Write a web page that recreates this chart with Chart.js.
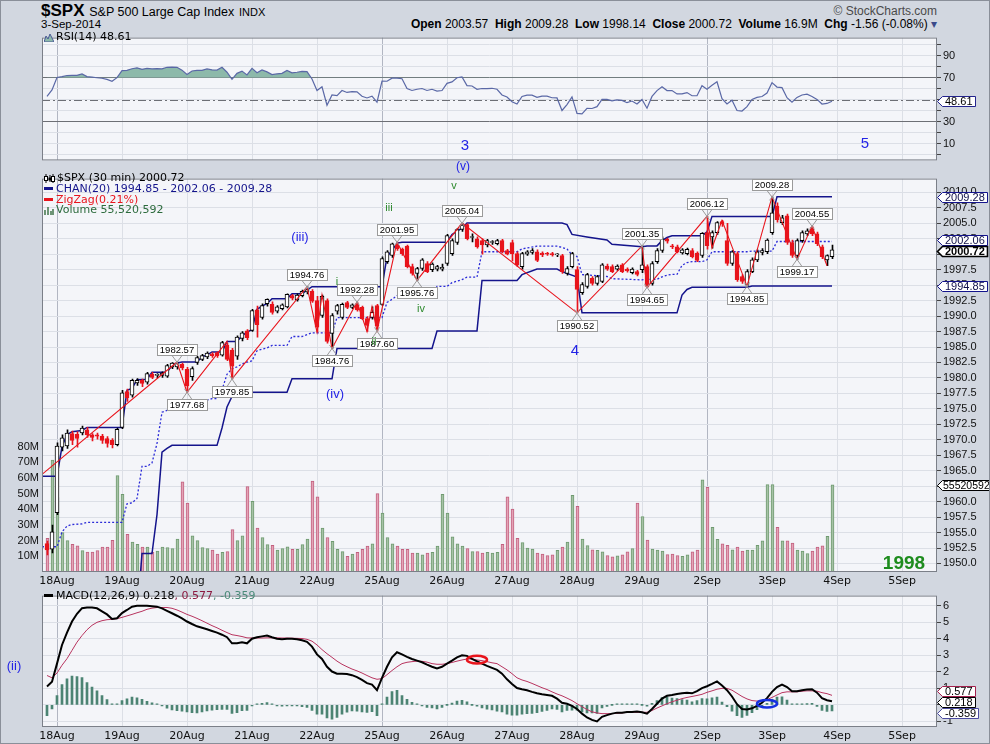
<!DOCTYPE html>
<html>
<head>
<meta charset="utf-8">
<title>$SPX 30 min</title>
<script src="https://cdn.jsdelivr.net/npm/chart.js@4.4.1/dist/chart.umd.min.js"></script>
<style>
  body { margin: 0; background: #d2d7e0; }
  #wrap { position: relative; width: 990px; height: 744px; background: #d2d7e0; overflow: hidden;
          font-family: "Liberation Sans", Arial, sans-serif; color: #000; box-sizing: border-box; border: 1px solid #8a8f99; }
  #wrap canvas { position: absolute; left: -1px; }
  .t { position: absolute; white-space: nowrap; line-height: 14px; }
  .lg { position: absolute; white-space: nowrap; font-family: "DejaVu Sans", Verdana, sans-serif; font-size: 11px; line-height: 14px; }
  .wave { position: absolute; transform: translate(-50%, -50%); white-space: nowrap; }
  .blue { color: #2323e6; }
  .green { color: #2e8a2e; }
  .ic { display: inline-block; width: 9px; height: 3px; vertical-align: middle; margin: 0 3px 2px 0; }
</style>
</head>
<body>
<div id="wrap">
  <div class="t" style="left:40px;top:0px;font-size:17px;line-height:20px"><b>$SPX</b> <span style="font-size:12.5px">S&amp;P 500 Large Cap Index</span> <span style="font-size:11px">INDX</span></div>
  <div class="t" style="left:40px;top:16px;font-size:11.5px">3-Sep-2014</div>
  <div class="t" style="right:52px;top:3px;font-size:12px;color:#4a4a4a">&copy; StockCharts.com</div>
  <div class="t" style="right:52px;top:16px;font-size:12px"><b>Open</b> 2003.57 &nbsp;<b>High</b> 2009.28 &nbsp;<b>Low</b> 1998.14 &nbsp;<b>Close</b> 2000.72 &nbsp;<b>Volume</b> 16.9M &nbsp;<b>Chg</b> -1.56 (-0.08%) <span style="color:#3a4a8a">&#9662;</span></div>

  <canvas id="rsiChart" width="990" height="140" style="top:28px"></canvas>
  <canvas id="priceChart" width="990" height="420" style="top:168px"></canvas>
  <canvas id="macdChart" width="990" height="157" style="top:586px"></canvas>

  <!-- panel legends -->
  <div class="lg" style="left:43px;top:29px"><svg width="10" height="9" style="vertical-align:middle;margin-right:2px"><path d="M0 9 L2 3 L4 6 L6 1 L8 5 L10 9 Z" fill="#8db9aa" stroke="#4a5a96"/></svg>RSI(14) 48.61</div>
  <div class="lg" style="left:43px;top:170px"><svg width="11" height="9" style="vertical-align:middle;margin-right:2px"><path d="M2 0 V9 M6 1 V8 M9 0 V9" stroke="#000"/><rect x="0.5" y="2.5" width="3" height="4" fill="#fff" stroke="#000"/><rect x="4.5" y="3.5" width="3" height="3" fill="#000"/><rect x="7.5" y="2.5" width="3" height="5" fill="#fff" stroke="#000"/></svg>$SPX (30 min) 2000.72</div>
  <div class="lg" style="left:43px;top:181px;color:#14148c"><span class="ic" style="background:#14148c"></span>CHAN(20) 1994.85 - 2002.06 - 2009.28</div>
  <div class="lg" style="left:43px;top:192px;color:#e8141c"><span class="ic" style="background:#e8141c"></span>ZigZag(0.21%)</div>
  <div class="lg" style="left:43px;top:202px;color:#2d6b3d"><svg width="10" height="9" style="vertical-align:middle;margin-right:2px"><path d="M1 9 V4 M4 9 V1 M7 9 V5 M9 9 V3" stroke="#4d7d55" stroke-width="1.6"/></svg>Volume 55,520,592</div>
  <div class="lg" style="left:43px;top:588px"><span class="ic" style="background:#000"></span>MACD(12,26,9) 0.218<span style="color:#8c1a40">, 0.577</span><span style="color:#4a8a78">, -0.359</span></div>

  <!-- wave count annotations -->
  <div class="wave blue" style="left:464px;top:143px;font-size:15px">3</div>
  <div class="wave blue" style="left:462px;top:165px;font-size:12px">(v)</div>
  <div class="wave blue" style="left:864px;top:141px;font-size:15px">5</div>
  <div class="wave blue" style="left:299px;top:235px;font-size:13px">(iii)</div>
  <div class="wave blue" style="left:334px;top:392px;font-size:13px">(iv)</div>
  <div class="wave blue" style="left:574px;top:348px;font-size:15px">4</div>
  <div class="wave blue" style="left:13px;top:664px;font-size:13px">(ii)</div>
  <div class="wave green" style="left:453px;top:184px;font-size:11px">v</div>
  <div class="wave green" style="left:388px;top:206px;font-size:11px">iii</div>
  <div class="wave green" style="left:336px;top:280px;font-size:11px">i</div>
  <div class="wave green" style="left:373px;top:340px;font-size:11px">ii</div>
  <div class="wave green" style="left:420px;top:307px;font-size:11px">iv</div>
  <div class="wave" style="left:903px;top:562px;font-size:19px;font-weight:bold;color:#1e8c1e">1998</div>
</div>

<script>
// ---- data (one value per 30-min bar, 15Aug last two bars first) ----
const days = ['18Aug', '19Aug', '20Aug', '21Aug', '22Aug', '25Aug', '26Aug', '27Aug', '28Aug', '29Aug', '2Sep', '3Sep', '4Sep', '5Sep'];
const weekStarts = ['18Aug', '25Aug', '2Sep'];

const open = [
  1953.2, 1952.3, 1958.2, 1968.8, 1969.0, 1971.0, 1970.9, 1971.1, 1971.6, 1970.8, 1970.8, 1970.6, 1970.2, 1969.9, 1969.2,
  1972.0, 1977.8, 1977.2, 1979.2, 1979.6, 1979.3, 1980.6, 1980.4, 1980.4, 1980.3, 1981.8, 1981.8, 1982.2,
  1981.4, 1980.2, 1982.5, 1983.0, 1983.4, 1983.9, 1984.1, 1983.7, 1985.3, 1984.5, 1983.5, 1986.4, 1987.6,
  1987.7, 1991.0, 1989.8, 1992.0, 1991.9, 1990.8, 1991.2, 1991.5, 1993.3, 1992.6, 1993.3, 1993.9, 1994.0,
  1992.5, 1990.1, 1992.5, 1987.2, 1990.8, 1989.8, 1992.2, 1991.4, 1992.0, 1991.4, 1989.6, 1989.8, 1991.7,
  1991.9, 1998.8, 1999.8, 2001.5, 2000.8, 2001.3, 1998.0, 1996.9, 1997.7, 1998.5, 1997.5, 1997.6, 1997.6,
  1998.5, 2000.1, 2001.9, 2004.0, 2004.8, 2002.7, 2002.5, 2002.2, 2001.5, 2001.9, 2001.7, 2002.2, 2000.6,
  2001.9, 2000.1, 1998.0, 2000.0, 2000.3, 2000.4, 2000.2, 2000.1, 2000.1, 1999.9, 1999.8, 1996.9, 1998.0,
  1997.5, 1993.8, 1994.8, 1996.1, 1995.3, 1995.6, 1998.1, 1998.0, 1997.6, 1998.3, 1997.6, 1997.0, 1997.2,
  1997.5, 1998.0, 1995.3, 1998.8, 2000.6, 2002.4, 2001.3, 2001.2, 2000.2, 2000.1, 2000.6, 2000.2, 1999.8,
  2003.5, 2002.8, 2003.5, 2005.3, 2002.2, 1998.5, 2000.1, 1996.4, 1995.0, 1997.2, 1999.1, 2000.3, 2000.4,
  2003.5, 2007.8, 2005.1, 2006.2, 2001.9, 1999.8, 2002.2, 2003.3, 2004.3, 2003.3, 2001.2, 1999.1, 1999.6
];
const high = [
  1953.6, 1956.2, 1969.5, 1970.8, 1971.6, 1971.4, 1971.3, 1972.2, 1972.0, 1971.0, 1971.1, 1970.9, 1970.5, 1970.2, 1971.9,
  1978.0, 1978.2, 1979.8, 1979.9, 1979.8, 1980.9, 1980.9, 1980.7, 1981.0, 1982.2, 1982.5, 1982.57, 1982.4,
  1981.7, 1981.8, 1983.5, 1983.8, 1984.2, 1984.1, 1984.2, 1985.9, 1985.6, 1984.8, 1986.8, 1987.5, 1987.8,
  1991.1, 1991.6, 1992.0, 1992.8, 1992.3, 1991.7, 1992.0, 1993.6, 1993.5, 1993.6, 1994.2, 1994.76, 1994.3,
  1993.2, 1993.4, 1992.8, 1990.4, 1991.9, 1992.1, 1992.4, 1992.0, 1992.28, 1991.6, 1989.9, 1991.5, 1991.9,
  1999.6, 2000.6, 2001.8, 2001.95, 2001.0, 2001.5, 1998.4, 1997.9, 1999.3, 1998.8, 1998.6, 1998.2, 1998.4,
  2003.2, 2002.5, 2004.2, 2005.04, 2004.9, 2003.3, 2002.8, 2002.5, 2002.4, 2002.2, 2002.4, 2002.4, 2000.8,
  2002.3, 2000.4, 2000.3, 2000.6, 2000.9, 2000.7, 2000.4, 2000.3, 2000.3, 2000.1, 2000.0, 1998.0, 2000.3,
  1998.0, 1995.4, 1996.9, 1996.4, 1996.6, 1998.5, 1998.4, 1998.3, 1998.3, 1998.5, 1997.8, 1997.8, 1997.4,
  2001.35, 1998.3, 1998.8, 2000.9, 2002.8, 2002.6, 2001.6, 2001.5, 2000.9, 2001.0, 2000.9, 2000.4, 2003.5,
  2006.12, 2003.8, 2005.3, 2005.5, 2005.0, 2000.6, 2000.4, 1996.7, 1997.5, 1999.4, 2000.7, 2000.9, 2002.5,
  2009.28, 2008.3, 2006.3, 2006.5, 2002.3, 2002.5, 2003.8, 2004.1, 2004.55, 2003.6, 2001.5, 1999.9, 2001.5
];
const low = [
  1951.4, 1951.7, 1957.9, 1968.2, 1968.6, 1969.2, 1968.8, 1970.8, 1970.4, 1969.8, 1970.1, 1969.4, 1968.8, 1968.7, 1969.0,
  1971.8, 1976.2, 1976.9, 1978.8, 1978.6, 1979.0, 1979.9, 1980.0, 1980.1, 1980.1, 1981.5, 1981.4, 1981.3,
  1977.68, 1979.6, 1982.2, 1982.8, 1983.1, 1983.3, 1983.3, 1983.5, 1982.8, 1979.85, 1983.0, 1986.0, 1986.2,
  1987.5, 1986.6, 1989.5, 1991.6, 1990.3, 1990.5, 1991.0, 1991.3, 1992.6, 1992.4, 1993.1, 1993.6, 1992.2,
  1987.4, 1989.8, 1985.6, 1984.76, 1990.3, 1989.5, 1991.2, 1991.2, 1990.8, 1989.4, 1987.5, 1989.5, 1987.6,
  1991.7, 1998.5, 1999.5, 2000.6, 1999.8, 1997.8, 1996.6, 1995.76, 1997.4, 1997.0, 1997.2, 1997.3, 1997.3,
  1998.2, 1999.8, 2001.6, 2003.7, 2002.3, 2002.0, 2001.0, 2000.0, 2001.2, 2001.6, 2001.5, 2000.2, 1999.9,
  1998.9, 1998.0, 1997.6, 1999.8, 2000.0, 1998.8, 1999.6, 1999.8, 1999.7, 1999.6, 1996.9, 1996.6, 1997.8,
  1990.52, 1993.5, 1994.5, 1995.0, 1995.0, 1995.4, 1997.4, 1997.0, 1997.4, 1997.0, 1997.1, 1996.8, 1996.5,
  1997.0, 1994.65, 1995.0, 1998.5, 2000.3, 2001.8, 2000.9, 2000.2, 2000.0, 1999.9, 1999.4, 1998.8, 1999.5,
  2000.8, 2001.0, 2003.2, 2004.5, 1998.2, 1998.2, 1995.6, 1995.3, 1994.85, 1997.0, 1998.8, 1999.9, 2000.1,
  2003.2, 2005.2, 2004.8, 2001.6, 1999.5, 1999.17, 2001.9, 2003.0, 2003.0, 2001.4, 1999.3, 1998.14, 1999.3
];
const close = [
  1952.2, 1955.1, 1969.0, 1970.3, 1971.1, 1969.9, 1970.2, 1971.9, 1970.8, 1970.4, 1970.6, 1969.9, 1969.4, 1969.2, 1971.7,
  1977.6, 1976.8, 1979.6, 1979.6, 1979.1, 1980.7, 1980.1, 1980.5, 1980.8, 1982.0, 1982.4, 1982.3, 1981.6,
  1978.7, 1981.5, 1983.3, 1983.6, 1984.0, 1983.6, 1983.6, 1985.7, 1983.0, 1981.9, 1986.6, 1987.3, 1986.5,
  1990.9, 1988.6, 1991.7, 1992.7, 1990.6, 1991.5, 1991.8, 1993.5, 1992.9, 1993.4, 1994.0, 1994.3, 1992.4,
  1988.2, 1993.2, 1985.9, 1990.1, 1991.7, 1991.9, 1991.4, 1991.8, 1991.0, 1989.6, 1988.5, 1990.6, 1988.4,
  1999.3, 2000.4, 2001.7, 2000.9, 2000.1, 1998.0, 1996.9, 1997.7, 1999.1, 1997.2, 1998.4, 1998.0, 1997.9,
  2003.0, 2002.2, 2004.0, 2004.7, 2002.5, 2002.7, 2001.2, 2001.5, 2002.2, 2001.9, 2002.2, 2000.4, 2000.0,
  2000.1, 1998.3, 2000.1, 2000.4, 2000.6, 1999.0, 1999.9, 2000.0, 1999.9, 1999.9, 1997.2, 1997.7, 2000.1,
  1994.3, 1995.1, 1996.7, 1995.3, 1996.4, 1998.3, 1997.6, 1997.2, 1998.1, 1997.2, 1997.3, 1997.6, 1996.74,
  1998.3, 1994.8, 1998.5, 2000.6, 2002.5, 2002.1, 2001.2, 2000.4, 2000.7, 2000.8, 1999.6, 1999.0, 2003.37,
  2001.4, 2003.5, 2005.1, 2004.9, 1998.5, 2000.4, 1995.9, 1995.6, 1997.2, 1999.1, 2000.4, 2000.6, 2002.28,
  2006.7, 2005.6, 2005.9, 2001.9, 1999.8, 2002.2, 2003.5, 2003.8, 2003.3, 2001.7, 1999.6, 1999.8, 2000.72
];
// volume in millions
const volume = [
  21.5, 71.3, 47.4, 25.2, 20, 17.7, 16.7, 13.6, 12.7, 12.7, 13.6, 15.9, 15.9, 20.2, 61.5,
  49.5, 24, 19, 17.7, 15.9, 15.9, 12.7, 13.4, 15.9, 15.5, 15, 21, 57.5,
  44, 23, 20, 15.5, 15, 14, 11.5, 12.5, 13, 27, 20, 23, 54.5,
  45, 28, 22, 17.5, 17, 14, 15, 16, 14.5, 14.5, 17.5, 21, 58,
  48, 28, 22, 19.5, 14.5, 13, 10, 11.5, 12.5, 14.5, 16.5, 18, 50,
  37.5, 22, 18, 16.5, 14.5, 14.5, 12, 12, 11, 12, 12.5, 16.5, 49.5,
  37.5, 22.5, 18, 16.5, 15, 13, 13, 12, 12.5, 12, 12.5, 17.7, 48,
  40.1, 21.5, 18.8, 15.2, 14.6, 12.1, 11.5, 10.5, 10.9, 13.8, 15.9, 19, 48.9,
  41.8, 21, 16.9, 14.2, 13.8, 12.8, 10.5, 9.6, 10.3, 10.9, 12.8, 14.9, 43.9,
  35.4, 20.4, 14.6, 14, 13.4, 11.1, 11.4, 10.5, 10, 11, 12.8, 14, 58.8,
  54, 28.5, 20.8, 17.9, 17, 14.2, 15.9, 13.4, 14, 14, 17, 19.8, 55.7,
  55.7, 28.5, 19.8, 19.8, 18.5, 14, 13.4, 11.8, 13.4, 15.9, 16.7, 22.8, 55.52
];
const volumeLast = 55520592;

const rsi = [
  53, 58.9, 70.2, 71, 72, 72.2, 72.2, 73.4, 71, 70.5, 70, 69.5, 68.5, 66.8, 70.1,
  76.4, 76.7, 78.2, 79, 77.6, 78.5, 78, 78.2, 78, 79.5, 79.7, 79.5, 76.9,
  72.9, 76.1, 76.7, 76.7, 78, 77.2, 76.9, 79.5, 75, 68.6, 74, 76, 72.5,
  78.5, 74.5, 77, 75.3, 72.8, 73.5, 74, 76.6, 74.5, 75, 75.7, 75.6, 68.9,
  58.3, 61.8, 45, 54.3, 53.7, 58.4, 56.6, 57.4, 57.2, 53.2, 51.6, 53.2, 47.7,
  67, 66.8, 69.6, 69.6, 69.1, 60.2, 58.4, 59.5, 60.2, 58.4, 59.5, 57.9, 58.4,
  64.9, 66.2, 70, 70.7, 62.8, 62.5, 59.5, 60.2, 60, 60.4, 59.5, 54.3, 52.5,
  48.2, 46.1, 53, 54.1, 54.1, 52.2, 53.3, 53.3, 51.8, 51.6, 40.2, 45.6, 52.6,
  37.6, 37.1, 42.1, 42, 43.7, 50.3, 50.3, 49, 49.8, 49.4, 47.3, 48.8, 46.1,
  50.2, 42.3, 53, 58.3, 61.7, 58.3, 58.3, 55.3, 55.3, 56.5, 53.6, 53.6, 62.8,
  59.6, 63.1, 66.3, 50.9, 46.1, 49.5, 40.2, 39.7, 43.7, 50.3, 52.1, 52.9, 56.1,
  65.5, 61.5, 61, 51.8, 47.8, 52.1, 54.3, 55.1, 53, 50.3, 46.1, 46.6, 48.61
];

const macd = [
  1.12, 1.4, 2.5, 3.63, 4.38, 5.05, 5.52, 5.86, 5.9, 5.9, 5.85, 5.67, 5.48, 5.2, 5.25,
  5.56, 5.75, 5.95, 6.0, 6.0, 6.0, 5.98, 5.95, 5.85, 5.7, 5.55, 5.4, 5.24,
  5.05, 4.9, 4.76, 4.67, 4.58, 4.48, 4.38, 4.25, 4.1, 3.73, 3.73, 3.79, 3.73,
  4.01, 4.1, 4.15, 4.2, 4.1, 4.01, 3.97, 4.0, 4.0, 3.97, 3.91, 3.82, 3.53,
  3.06, 2.78, 2.31, 2.02, 1.89, 1.89, 1.87, 1.8, 1.68, 1.51, 1.32, 1.23, 0.89,
  1.64, 2.31, 2.88, 3.19, 3.06, 2.91, 2.78, 2.68, 2.58, 2.44, 2.31, 2.21, 2.31,
  2.5, 2.68, 2.88, 3.0, 2.97, 2.78, 2.64, 2.5, 2.36, 2.24, 2.12, 1.89, 1.55,
  1.27, 1.02, 0.95, 0.89, 0.79, 0.7, 0.64, 0.6, 0.55, 0.38, 0.13, 0.07, -0.06,
  -0.25, -0.53, -0.76, -0.91, -1.0, -0.72, -0.62, -0.53, -0.47, -0.47, -0.43, -0.43, -0.4,
  -0.45, -0.53, -0.25, 0.07, 0.38, 0.55, 0.6, 0.66, 0.7, 0.74, 0.7, 0.83, 1.02,
  1.13, 1.27, 1.42, 1.17, 0.89, 0.51, 0.04, -0.25, -0.28, -0.21, -0.06, 0.13, 0.41,
  0.79, 1.08, 1.23, 1.08, 0.83, 0.83, 0.89, 0.93, 0.95, 0.74, 0.41, 0.28, 0.218
];
const signal = [
  1.78, 1.64, 1.93, 2.4, 2.8, 3.3, 3.8, 4.2, 4.55, 4.82, 5.0, 5.1, 5.16, 5.18, 5.22,
  5.3, 5.39, 5.48, 5.58, 5.67, 5.79, 5.86, 5.9, 5.9, 5.9, 5.85, 5.75, 5.62,
  5.48, 5.37, 5.24, 5.1, 4.95, 4.8, 4.67, 4.52, 4.38, 4.25, 4.2, 4.14, 4.06,
  4.05, 4.05, 4.05, 4.06, 4.06, 4.06, 4.05, 4.05, 4.04, 4.03, 4.02, 3.97, 3.86,
  3.63, 3.35, 3.1, 2.88, 2.65, 2.46, 2.31, 2.17, 2.06, 1.93, 1.78, 1.64, 1.55,
  1.59, 1.83, 2.08, 2.31, 2.5, 2.58, 2.62, 2.65, 2.64, 2.59, 2.5, 2.46, 2.46,
  2.5, 2.57, 2.65, 2.72, 2.78, 2.78, 2.72, 2.68, 2.62, 2.55, 2.5, 2.31, 2.12,
  1.89, 1.64, 1.51, 1.42, 1.3, 1.17, 1.04, 0.93, 0.79, 0.66, 0.55, 0.41, 0.26,
  0.07, -0.11, -0.28, -0.42, -0.49, -0.53, -0.53, -0.53, -0.51, -0.49, -0.45, -0.45, -0.45,
  -0.45, -0.45, -0.34, -0.19, -0.06, 0.07, 0.19, 0.28, 0.38, 0.45, 0.51, 0.57, 0.64,
  0.76, 0.85, 0.95, 1.0, 1.0, 0.89, 0.7, 0.51, 0.36, 0.26, 0.23, 0.26, 0.32,
  0.45, 0.6, 0.74, 0.79, 0.79, 0.79, 0.83, 0.85, 0.85, 0.83, 0.74, 0.68, 0.577
];

// price channel (20) vertices: [bar, value]
const chanUpper = [[-1,1964.1],[2,1964.1],[3,1968.9],[4,1970.8],[5,1971.3],[7,1971.5],[8,1972.0],[15,1972.0],[16,1978.0],[17,1978.3],[18,1979.7],[20,1979.8],[21,1980.9],[24,1980.9],[25,1982.0],[26,1982.4],[27,1982.57],[30,1982.57],[31,1983.4],[32,1983.7],[33,1984.2],[35,1984.2],[36,1985.9],[38,1985.9],[39,1986.8],[40,1987.4],[41,1987.8],[42,1991.1],[43,1991.6],[44,1992.0],[45,1992.8],[48,1992.8],[49,1993.6],[51,1993.6],[52,1994.2],[53,1994.76],[67,1994.76],[68,1999.6],[69,2000.6],[70,2001.8],[71,2001.95],[80,2001.95],[81,2003.2],[83,2004.2],[84,2005.04],[103,2005.04],[104,2004.8],[105,2003.2],[108,2002.8],[112,2002.3],[113,2001.6],[119,2001.2],[120,2001.35],[122,2001.35],[123,2002.2],[124,2002.7],[125,2003.0],[131,2003.0],[132,2003.6],[133,2006.12],[145,2006.12],[146,2009.28],[157,2009.28]];
const chanMid = [[-1,1952.7],[2,1952.7],[3,1955.1],[4,1956.05],[5,1956.3],[7,1956.4],[8,1956.65],[15,1956.65],[16,1959.65],[17,1959.8],[18,1960.5],[19,1965.7],[20,1965.7],[21,1966.25],[22,1969.4],[23,1974.45],[24,1974.75],[25,1975.55],[26,1975.75],[27,1975.85],[30,1975.85],[31,1976.25],[32,1976.4],[33,1976.65],[34,1976.65],[35,1978.05],[36,1980.6],[37,1981.45],[38,1981.8],[39,1982.25],[40,1982.55],[41,1982.75],[42,1984.4],[43,1984.65],[44,1984.85],[45,1985.25],[48,1985.25],[49,1986.7],[51,1986.7],[52,1987.0],[53,1987.3],[57,1987.3],[58,1989.76],[67,1989.76],[68,1992.2],[69,1992.7],[70,1993.3],[71,1993.35],[77,1993.35],[78,1994.8],[80,1994.8],[81,1995.4],[83,1995.9],[84,1996.3],[86,1996.3],[87,2000.4],[94,2000.4],[95,2000.87],[98,2001.3],[102,2001.3],[103,2001.1],[104,2000.85],[105,1999.9],[106,1999.65],[107,1996.7],[108,1996.65],[112,1996.4],[113,1996.05],[119,1995.85],[120,1995.95],[122,1995.95],[123,1996.35],[124,1996.6],[125,1996.75],[126,1996.75],[127,1998.2],[128,1998.65],[129,1998.8],[131,1998.8],[132,1999.1],[133,2000.4],[140,2000.4],[141,2000.5],[145,2000.5],[146,2002.06],[157,2002.06]];
const chanLower = [[-1,1941.3],[18,1941.3],[19,1951.6],[21,1951.6],[22,1957.9],[23,1968.0],[24,1968.6],[25,1969.1],[34,1969.1],[35,1971.9],[36,1975.3],[37,1977.0],[38,1977.68],[48,1977.68],[49,1979.85],[57,1979.85],[58,1984.76],[77,1984.76],[78,1987.6],[86,1987.6],[87,1995.76],[94,1995.76],[95,1996.7],[98,1997.6],[102,1997.6],[103,1997.2],[104,1996.9],[106,1996.3],[107,1990.52],[126,1990.52],[127,1993.4],[128,1994.3],[129,1994.65],[140,1994.65],[141,1994.85],[157,1994.85]];

// zigzag pivots and the ones that carry a value box
const zzIdx = [-1, 26, 28, 36, 37, 52, 54, 55, 57, 62, 64, 65, 66, 70, 74, 83, 106, 119, 120, 132, 133, 135, 140, 145, 150, 153, 156];
const zzVal = [1964.4, 1982.57, 1977.68, 1985.9, 1979.85, 1994.76, 1987.4, 1993.4, 1984.76, 1992.28, 1987.5, 1991.5, 1987.60, 2001.95, 1995.76, 2005.04, 1990.52, 2001.35, 1994.65, 2006.12, 2001.0, 2005.5, 1994.85, 2009.28, 1999.17, 2004.55, 1998.14];
const zzLabelled = [26, 28, 37, 52, 57, 62, 66, 70, 74, 83, 106, 119, 120, 132, 140, 145, 150, 153];

// axis ticks
const priceTicks = [1950, 1952.5, 1955, 1957.5, 1960, 1962.5, 1965, 1967.5, 1970, 1972.5, 1975, 1977.5, 1980, 1982.5, 1985, 1987.5, 1990, 1992.5, 1995, 1997.5, 2000, 2002.5, 2005, 2007.5, 2010];
const volTicks = [10, 20, 30, 40, 50, 60, 70, 80];
const rsiTicks = [0, 10, 20, 30, 40, 50, 60, 70, 80, 90, 100];
const rsiLabels = [10, 30, 70, 90];
const macdTicks = [-1, 0, 1, 2, 3, 4, 5, 6];

// circled MACD crossovers (bar, value)
const macdMarks = [{ x: 86, y: 2.74, color: '#e8141c' }, { x: 144, y: 0.07, color: '#1530e0' }];

// ---- layout ----
const xMin = -1, xMax = 178;          // visible bar window
const firstBar = 2, barsPerDay = 13;  // 13 half-hour bars per session, 18Aug opens at bar 2
const dayTicks = days.map((d, k) => firstBar + k * barsPerDay);
const idx = close.map((_, i) => i);
const up = i => close[i] >= open[i];
const pts = arr => arr.map(([x, y]) => ({ x, y }));

Chart.defaults.font.family = '"Liberation Sans", Arial, sans-serif';
Chart.defaults.font.size = 11;
Chart.defaults.color = '#111';
Chart.defaults.animation = false;

const GRID = '#dcdfe6';

function xAxis(labels) {
  return {
    type: 'linear', min: xMin, max: xMax, offset: false,
    afterBuildTicks: s => { s.ticks = dayTicks.map(value => ({ value })); },
    afterFit: s => { s.height = labels ? 17 : 0; },
    ticks: {
      display: labels, autoSkip: false, maxRotation: 0, padding: 3,
      font: { family: '"DejaVu Sans", Verdana, sans-serif', size: 11 },
      callback: (v, i) => days[i]
    },
    grid: {
      offset: false, drawTicks: false,
      color: c => (c.tick && weekStarts.includes(days[dayTicks.indexOf(c.tick.value)])) ? '#b2b6c2' : GRID
    },
    border: { display: false }
  };
}

function rightAxis(min, max, ticks, fmt, gridColor) {
  return {
    type: 'linear', position: 'right', min, max,
    afterBuildTicks: s => { s.ticks = ticks.map(value => ({ value })); },
    afterFit: s => { s.width = 53; },
    ticks: { autoSkip: false, padding: 2, callback: fmt },
    grid: { color: gridColor || GRID, tickLength: 4, tickColor: '#444' },
    border: { display: false }
  };
}

// panel background and frame
const panelBox = {
  id: 'panelBox',
  beforeDraw(c) {
    const a = c.chartArea, g = c.ctx;
    g.save(); g.fillStyle = '#f4f5f9';
    g.fillRect(a.left, a.top, a.right - a.left, a.bottom - a.top);
    g.restore();
  },
  afterDatasetsDraw(c) {
    const a = c.chartArea, g = c.ctx;
    g.save(); g.strokeStyle = '#7b7f88'; g.lineWidth = 1;
    g.strokeRect(a.left + 0.5, a.top + 0.5, a.right - a.left - 1, a.bottom - a.top - 1);
    g.restore();
  }
};

// value tags on the right edge, pushed apart when they overlap
function drawTags(chart, list) {
  const g = chart.ctx, right = chart.chartArea.right, h = 10;
  const items = list.map(t => ({ ...t, y: chart.scales[t.axis].getPixelForValue(t.v) }));
  const sorted = [...items].sort((a, b) => a.y - b.y);
  for (let n = 0; n < 8; n++) {
    for (let i = 1; i < sorted.length; i++) {
      const d = sorted[i].y - sorted[i - 1].y;
      if (d < h + 1) { const m = (h + 1 - d) / 2; sorted[i - 1].y -= m; sorted[i].y += m; }
    }
  }
  items.forEach(t => {
    g.save();
    g.font = (t.bold ? 'bold ' : '') + (t.size || 11) + 'px "Liberation Sans", Arial, sans-serif';
    const pad = t.pad === undefined ? 3 : t.pad;
    const w = Math.round(g.measureText(t.text).width) + pad * 2 - 1, x0 = right + 5, y = Math.round(t.y) + 0.5;
    g.beginPath();
    g.moveTo(right + 0.5, y);
    g.lineTo(x0 + 0.5, y - h / 2); g.lineTo(x0 + w + 0.5, y - h / 2);
    g.lineTo(x0 + w + 0.5, y + h / 2); g.lineTo(x0 + 0.5, y + h / 2);
    g.closePath();
    g.fillStyle = '#fff'; g.fill();
    g.strokeStyle = t.color; g.lineWidth = t.bold ? 1.6 : 1; g.stroke();
    g.fillStyle = t.textColor || '#000'; g.textBaseline = 'middle';
    g.fillText(t.text, x0 + pad, y + 0.5);
    g.restore();
  });
}

// ---- RSI panel ----
new Chart(document.getElementById('rsiChart'), {
  type: 'line',
  data: { datasets: [{
    data: idx.map(i => ({ x: i, y: rsi[i] })),
    borderColor: '#5a68a6', borderWidth: 1.2, pointRadius: 0, tension: 0,
    fill: { target: { value: 70 }, above: '#8db9aa', below: 'rgba(0,0,0,0)' }
  }] },
  options: {
    responsive: false, events: [],
    layout: { padding: { top: 1, left: 42, right: 0, bottom: 0 } },
    plugins: { legend: { display: false }, tooltip: { enabled: false } },
    scales: {
      x: xAxis(false),
      y: rightAxis(-5.2, 106.5, rsiTicks, v => rsiLabels.includes(v) ? String(v) : '',
        c => (c.tick && (c.tick.value === 70 || c.tick.value === 30)) ? '#6d6f75' : GRID)
    }
  },
  plugins: [panelBox, {
    id: 'rsiExtras',
    beforeDatasetsDraw(c) {
      const g = c.ctx, a = c.chartArea, y = Math.round(c.scales.y.getPixelForValue(50)) + 0.5;
      g.save(); g.strokeStyle = '#6d6f75'; g.lineWidth = 1; g.setLineDash([8, 3, 2, 3]);
      g.beginPath(); g.moveTo(a.left, y); g.lineTo(a.right, y); g.stroke(); g.restore();
    },
    afterDraw(c) {
      drawTags(c, [{ axis: 'y', v: rsi.at(-1), text: rsi.at(-1).toFixed(2), color: '#23238c' }]);
    }
  }]
});

// ---- price panel: candles, price channel, zigzag, volume ----
new Chart(document.getElementById('priceChart'), {
  type: 'bar',
  data: { datasets: [
    { type: 'line', data: zzIdx.map((x, k) => ({ x, y: zzVal[k] })), borderColor: '#e8141c', borderWidth: 1.1, pointRadius: 0, tension: 0, order: 1 },
    { data: idx.map(i => ({ x: i, y: [open[i], close[i]] })), barThickness: 4, grouped: false, borderSkipped: false, minBarLength: 1, borderWidth: 1,
      backgroundColor: c => up(c.dataIndex) ? '#ffffff' : '#e8141c', borderColor: c => up(c.dataIndex) ? '#000000' : '#e8141c', order: 2 },
    { xAxisID: 'xw', data: idx.map(i => ({ x: i, y: [low[i], high[i]] })), barThickness: 1, grouped: false, borderWidth: 0,
      backgroundColor: c => up(c.dataIndex) ? '#000000' : '#e8141c', order: 3 },
    { type: 'line', data: pts(chanUpper), borderColor: '#14148c', borderWidth: 1.5, pointRadius: 0, tension: 0, order: 4 },
    { type: 'line', data: pts(chanMid), borderColor: '#2b2bd8', borderWidth: 1.3, borderDash: [2, 2], pointRadius: 0, tension: 0, order: 4 },
    { type: 'line', data: pts(chanLower), borderColor: '#14148c', borderWidth: 1.5, pointRadius: 0, tension: 0, order: 4 },
    { xAxisID: 'xw', yAxisID: 'vol', data: idx.map(i => ({ x: i, y: volume[i] })), barThickness: 3, grouped: false, borderWidth: 1, borderSkipped: false,
      backgroundColor: c => up(c.dataIndex) ? '#a6c2a6' : '#e3a3b6', borderColor: c => up(c.dataIndex) ? '#6f9a70' : '#c2607f', order: 6 }
  ] },
  options: {
    responsive: false, events: [],
    layout: { padding: { top: 1, left: 0, right: 0, bottom: 0 } },
    plugins: { legend: { display: false }, tooltip: { enabled: false } },
    scales: {
      x: xAxis(true),
      xw: { type: 'linear', display: false, min: xMin - 0.1, max: xMax - 0.1, offset: false },
      y: rightAxis(1948.62, 2012.23, priceTicks, v => v.toFixed(1)),
      vol: {
        axis: 'y', type: 'linear', position: 'left', min: 0, max: 250.8,
        afterBuildTicks: s => { s.ticks = volTicks.map(value => ({ value })); },
        afterFit: s => { s.width = 42; },
        ticks: { autoSkip: false, padding: 3, callback: v => v + 'M' },
        grid: { drawOnChartArea: false, drawTicks: false },
        border: { display: false }
      }
    }
  },
  plugins: [panelBox, {
    id: 'priceExtras',
    afterDatasetsDraw(c) {
      const g = c.ctx, xs = c.scales.x, ys = c.scales.y, h = 11;
      g.save();
      g.font = '9.5px "Liberation Sans", Arial, sans-serif';
      g.lineWidth = 1;
      zzLabelled.forEach(i => {
        const k = zzIdx.indexOf(i), v = zzVal[k];
        const isHigh = v > zzVal[k - 1];
        const px = xs.getPixelForValue(i), py = ys.getPixelForValue(v);
        const text = v.toFixed(2), w = Math.round(g.measureText(text).width) + 6;
        const bx = Math.round(px - w / 2) + 0.5;
        const by = isHigh ? Math.round(py - 7 - h) + 0.5 : Math.round(py + 7) + 0.5;
        const edge = isHigh ? by + h : by;
        const s = isHigh ? 1 : -1;
        // crossed connector from the box corners through the pivot
        g.strokeStyle = '#9a9a9a';
        g.beginPath();
        g.moveTo(px - 5, edge); g.lineTo(px + 2.5, py + s * 3.5);
        g.moveTo(px + 5, edge); g.lineTo(px - 2.5, py + s * 3.5);
        g.stroke();
        g.fillStyle = '#fff'; g.fillRect(bx, by, w, h); g.strokeRect(bx, by, w, h);
        g.fillStyle = '#000'; g.textAlign = 'center'; g.textBaseline = 'middle';
        g.fillText(text, px, by + h / 2 + 0.5);
      });
      g.restore();
    },
    afterDraw(c) {
      drawTags(c, [
        { axis: 'y', v: chanUpper.at(-1)[1], text: chanUpper.at(-1)[1].toFixed(2), color: '#14148c', textColor: '#10104a' },
        { axis: 'y', v: chanMid.at(-1)[1], text: chanMid.at(-1)[1].toFixed(2), color: '#14148c', textColor: '#10104a' },
        { axis: 'y', v: chanLower.at(-1)[1], text: chanLower.at(-1)[1].toFixed(2), color: '#14148c', textColor: '#10104a' },
        { axis: 'vol', v: volume.at(-1), text: String(volumeLast), color: '#000', size: 10.5, pad: 1 },
        { axis: 'y', v: close.at(-1), text: close.at(-1).toFixed(2), color: '#000', bold: true }
      ]);
    }
  }]
});

// ---- MACD panel ----
new Chart(document.getElementById('macdChart'), {
  type: 'bar',
  data: { datasets: [
    { type: 'line', data: idx.map(i => ({ x: i, y: macd[i] })), borderColor: '#000', borderWidth: 2, pointRadius: 0, tension: 0, order: 1 },
    { type: 'line', data: idx.map(i => ({ x: i, y: signal[i] })), borderColor: '#b8345f', borderWidth: 1, pointRadius: 0, tension: 0, order: 2 },
    // histogram is MACD minus its signal line
    { data: idx.map(i => ({ x: i, y: macd[i] - signal[i] })), backgroundColor: '#4c8473', barThickness: 2, minBarLength: 1, grouped: false, order: 3 }
  ] },
  options: {
    responsive: false, events: [],
    layout: { padding: { top: 1, left: 42, right: 0, bottom: 0 } },
    plugins: { legend: { display: false }, tooltip: { enabled: false } },
    scales: {
      x: xAxis(true),
      y: rightAxis(-1.34, 6.62, macdTicks, v => String(v))
    }
  },
  plugins: [panelBox, {
    id: 'macdExtras',
    afterDatasetsDraw(c) {
      const g = c.ctx;
      g.save(); g.lineWidth = 2.5;
      macdMarks.forEach(m => {
        g.strokeStyle = m.color;
        g.beginPath();
        g.ellipse(c.scales.x.getPixelForValue(m.x), c.scales.y.getPixelForValue(m.y), 10, 3.8, 0, 0, Math.PI * 2);
        g.stroke();
      });
      g.restore();
    },
    afterDraw(c) {
      const hist = macd.at(-1) - signal.at(-1);
      drawTags(c, [
        { axis: 'y', v: signal.at(-1), text: signal.at(-1).toFixed(3), color: '#a3204d' },
        { axis: 'y', v: macd.at(-1), text: macd.at(-1).toFixed(3), color: '#000' },
        { axis: 'y', v: hist, text: hist.toFixed(3), color: '#4b4ba0' }
      ]);
    }
  }]
});
</script>
</body>
</html>
